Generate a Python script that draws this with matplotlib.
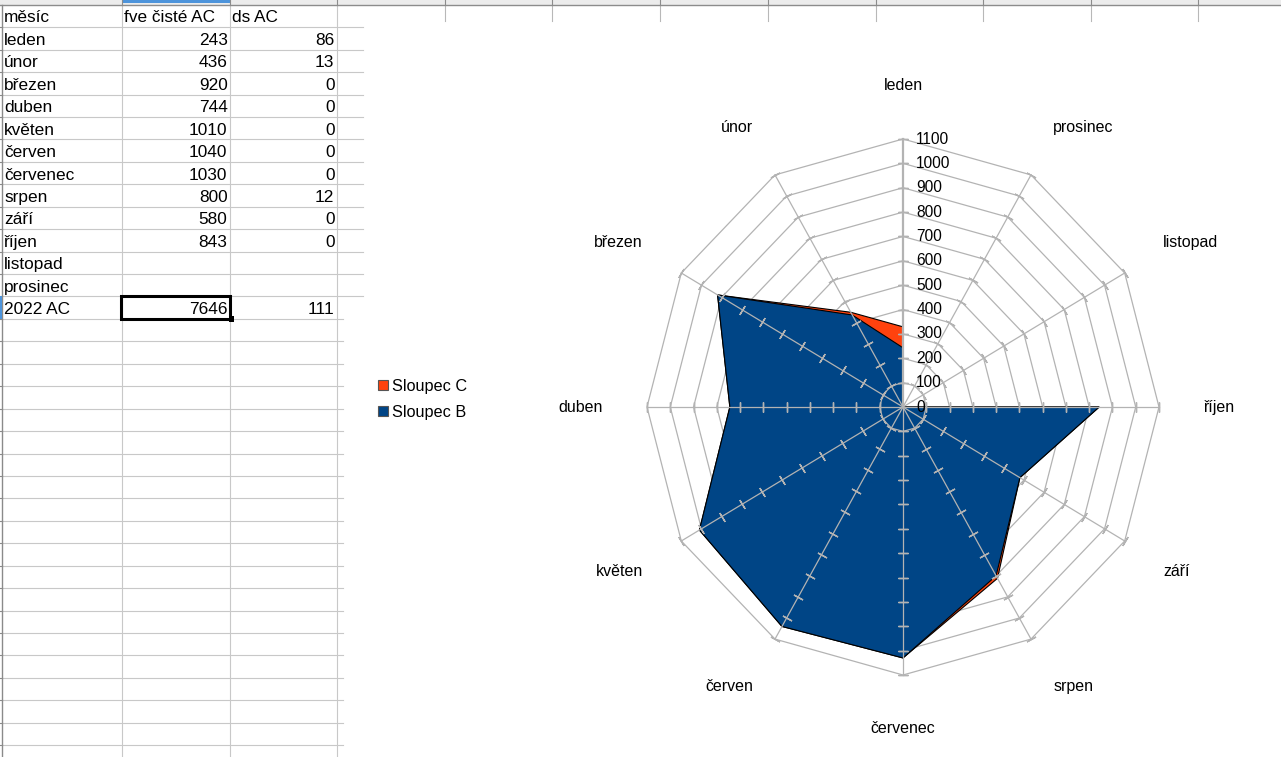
import numpy as np
import matplotlib
matplotlib.use("Agg")
import matplotlib.pyplot as plt
from matplotlib.patches import Rectangle, Patch

plt.rcParams['font.family'] = ['Liberation Sans', 'DejaVu Sans']

# ---------------- data ----------------
headers = ['měsíc', 'fve čisté AC', 'ds AC']
months = ['leden', 'únor', 'březen', 'duben', 'květen', 'červen', 'červenec',
          'srpen', 'září', 'říjen', 'listopad', 'prosinec']
fve = [243, 436, 920, 744, 1010, 1040, 1030, 800, 580, 843, None, None]
ds = [86, 13, 0, 0, 0, 0, 0, 12, 0, 0, None, None]
total_label = '2022 AC'
total_fve = 7646
total_ds = 111
radial_ticks = [0, 100, 200, 300, 400, 500, 600, 700, 800, 900, 1000, 1100]
legend_labels = ['Sloupec C', 'Sloupec B']
series_B_color = '#004586'
series_C_color = '#ff420e'

# ---------------- figure ----------------
W, H = 1281, 757
fig = plt.figure(figsize=(W / 100, H / 100), dpi=100)
bg = fig.add_axes([0, 0, 1, 1])
bg.set_xlim(0, W)
bg.set_ylim(H, 0)
bg.axis('off')

# spreadsheet grid
row_top0 = 4.9
row_h = 22.43
grid_c = '#c8c8c8'
bg.add_patch(Rectangle((0, 0), W, 4.5, facecolor='#ececec', edgecolor='none', zorder=1))
bg.add_patch(Rectangle((122, 0), 107.5, 3, facecolor='#4d94db', edgecolor='none', zorder=2))
bg.plot([0, W], [4.6, 4.6], color='#8c8c8c', lw=1.0, zorder=3)
col_hdr = [122, 229.5, 337, 444.5, 552, 660, 768, 875.5, 983, 1090.5, 1198]
for cx in col_hdr:
    bg.plot([cx, cx], [0, 4.5], color='#8c8c8c', lw=0.8, zorder=3)
    if cx > 400:
        bg.plot([cx, cx], [4.5, 20.5], color='#b8b8b8', lw=0.8, zorder=2)
n_rows = int((H - row_top0) / row_h) + 1
for i in range(1, n_rows + 1):
    y = row_top0 + i * row_h
    xe = 363 if y < 300 else 343
    bg.plot([2.5, xe], [y, y], color=grid_c, lw=0.8, zorder=2)
for cx in [122, 229.5, 337]:
    bg.plot([cx, cx], [4.6, H], color=grid_c, lw=0.8, zorder=2)
bg.plot([2.2, 2.2], [4.6, H], color='#8a8a8a', lw=1.0, zorder=3)
for i in range(1, n_rows + 1):
    y = row_top0 + i * row_h
    bg.plot([0, 2.2], [y, y], color='#8a8a8a', lw=0.8, zorder=3)
bg.add_patch(Rectangle((0, row_top0 + 13 * row_h), 1.6, row_h, facecolor='#4d94db',
                       edgecolor='none', zorder=4))

fs_cell = 12.4
def base(i):
    return row_top0 + i * row_h + 17.6

bg.text(4, base(0), headers[0], fontsize=fs_cell, ha='left', va='baseline', zorder=5)
bg.text(124, base(0), headers[1], fontsize=fs_cell, ha='left', va='baseline', zorder=5)
bg.text(232, base(0), headers[2], fontsize=fs_cell, ha='left', va='baseline', zorder=5)
for i, m in enumerate(months):
    bg.text(4, base(i + 1), m, fontsize=fs_cell, ha='left', va='baseline', zorder=5)
    if fve[i] is not None:
        bg.text(227.5, base(i + 1), str(fve[i]), fontsize=fs_cell, ha='right', va='baseline', zorder=5)
    if ds[i] is not None:
        bg.text(334.5, base(i + 1), str(ds[i]), fontsize=fs_cell, ha='right', va='baseline', zorder=5)
tr = len(months) + 1
bg.text(4, base(tr), total_label, fontsize=fs_cell, ha='left', va='baseline', zorder=5)
bg.text(227.5, base(tr), str(total_fve), fontsize=fs_cell, ha='right', va='baseline', zorder=5)
bg.text(334.5, base(tr), str(total_ds), fontsize=fs_cell, ha='right', va='baseline', zorder=5)
# selected cell
sy0 = row_top0 + tr * row_h
bg.add_patch(Rectangle((121.3, sy0 - 0.2), 108.8, row_h + 0.6, facecolor='none',
                       edgecolor='black', lw=2.2, zorder=6))
bg.add_patch(Rectangle((228.5, sy0 + row_h - 2.5), 5.5, 5.5, facecolor='black',
                       edgecolor='none', zorder=7))

# ---------------- radar chart ----------------
cx_px, cy_px = 903.0, 407.0
sx = 256.0 / 1100.0   # px per unit horizontally
sy = 268.0 / 1100.0   # px per unit vertically
lim = 1400.0
ax_w = 2 * lim * sx
ax_h = 2 * lim * sy
left_px = cx_px - lim * sx
top_px = cy_px - lim * sy
ax = fig.add_axes([left_px / W, (H - top_px - ax_h) / H, ax_w / W, ax_h / H])
ax.set_xlim(-lim, lim)
ax.set_ylim(-lim, lim)
ax.set_aspect('auto')
ax.axis('off')
ax.patch.set_alpha(0)

n = len(months)
theta = np.deg2rad(90 + 360.0 / n * np.arange(n))
cos_t, sin_t = np.cos(theta), np.sin(theta)
B = np.array([0 if v is None else v for v in fve], dtype=float)
C = np.array([0 if v is None else v for v in ds], dtype=float)
BC = B + C

gc = '#b3b3b3'
rmax = radial_ticks[-1]
# rings
for r in radial_ticks[1:]:
    xs = np.append(r * cos_t, r * cos_t[0])
    ys = np.append(r * sin_t, r * sin_t[0])
    ax.plot(xs, ys, color=gc, lw=0.9, zorder=1 if r > 100 else 5)

# stacked areas
ax.fill(BC * cos_t, BC * sin_t, facecolor=series_C_color, edgecolor='black', lw=0.8, zorder=2)
ax.fill(B * cos_t, B * sin_t, facecolor=series_B_color, edgecolor='black', lw=0.8, zorder=3)

# spokes with ticks
tick_r = np.array(radial_ticks[1:], dtype=float)
for k in range(n):
    lw = 1.6 if k == 0 else 0.9
    ax.plot([0, rmax * cos_t[k]], [0, rmax * sin_t[k]], color=gc, lw=lw, zorder=4)
    disp_ang = np.degrees(np.arctan2(sy * sin_t[k], sx * cos_t[k]))
    ax.plot(tick_r * cos_t[k], tick_r * sin_t[k], linestyle='none',
            marker=(2, 2, disp_ang), markersize=7.4, markeredgecolor=gc,
            markeredgewidth=1.0, zorder=4)

# radial tick labels on leden axis
for v in radial_ticks:
    ax.annotate(str(v), xy=(0, v), xytext=(9.6, 0), textcoords='offset points',
                ha='left', va='center', fontsize=11.2, color='black', zorder=6)

# category labels
lab_r = 1290
for k, m in enumerate(months):
    c, s = cos_t[k], sin_t[k]
    ha = 'center' if abs(c) < 0.01 else ('left' if c > 0 else 'right')
    va = 'center' if abs(s) < 0.01 else ('bottom' if s > 0 else 'top')
    ax.text(lab_r * c, lab_r * s, m, ha=ha, va=va, fontsize=11.5, color='black')

# legend
handles = [Patch(facecolor=series_C_color, edgecolor='#555555', lw=0.8),
           Patch(facecolor=series_B_color, edgecolor='#555555', lw=0.8)]
fig.legend(handles, legend_labels, loc='upper left',
           bbox_to_anchor=(377.5 / W, 1 - 378.5 / H), frameon=False,
           fontsize=11.7, handlelength=0.62, handleheight=0.62,
           handletextpad=0.3, labelspacing=0.7, borderpad=0, borderaxespad=0)

fig.savefig('out.png', dpi=100)
